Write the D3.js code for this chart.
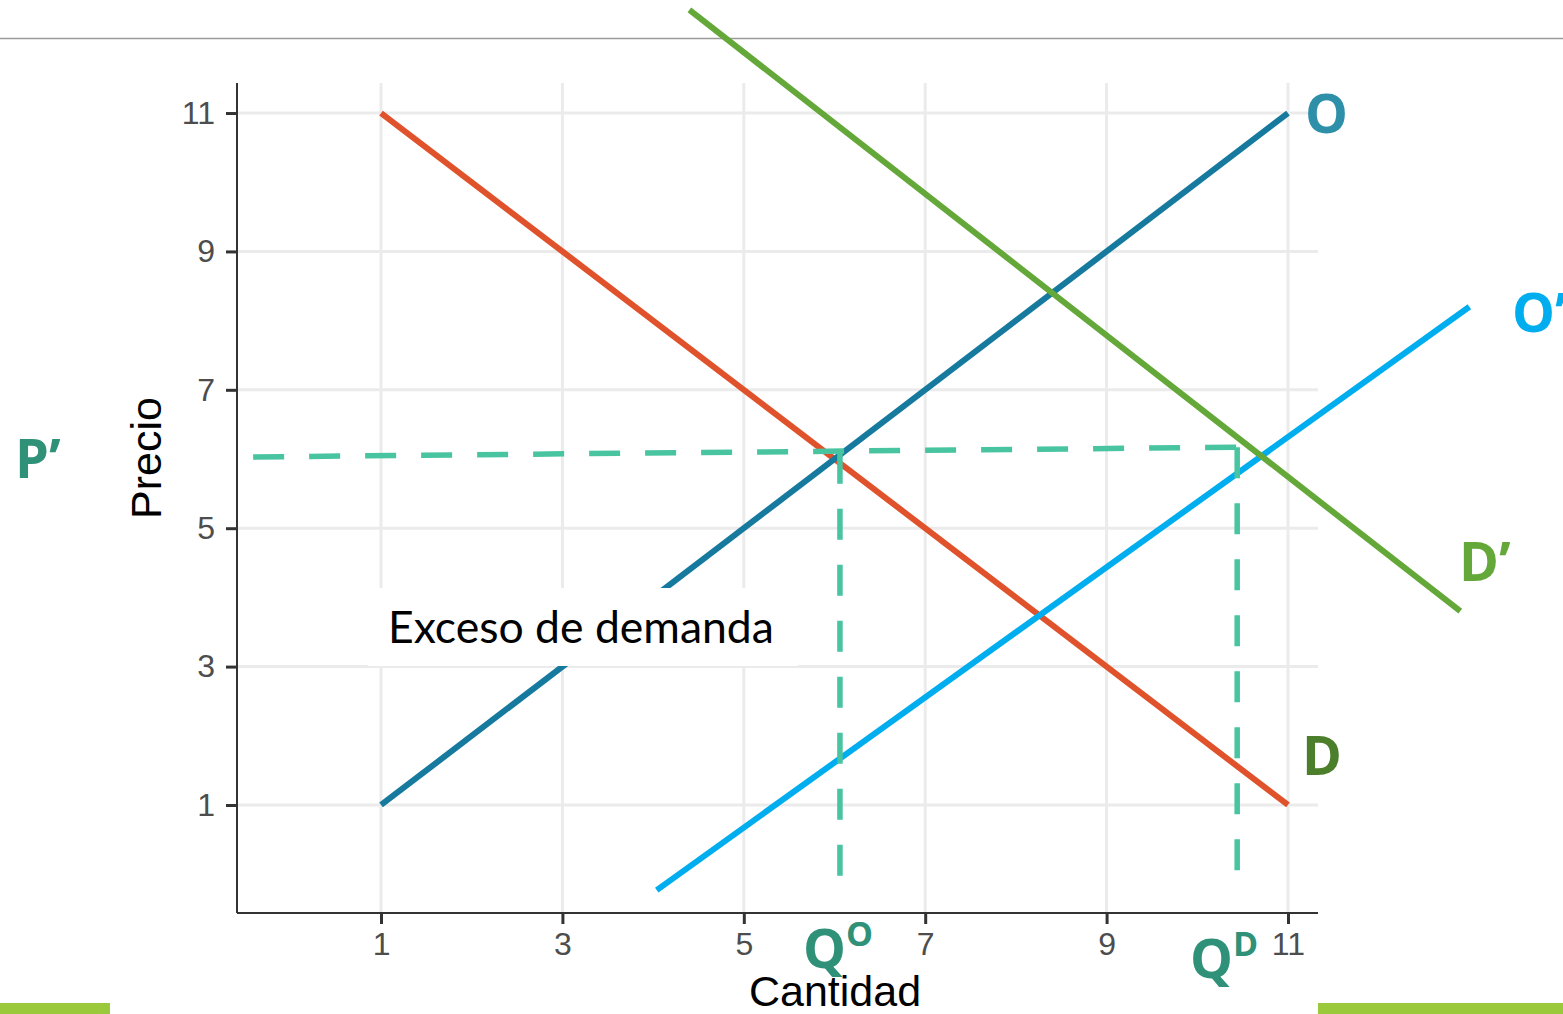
<!DOCTYPE html>
<html><head><meta charset="utf-8">
<script src="https://cdn.jsdelivr.net/npm/d3@7"></script>
<style>html,body{margin:0;padding:0;background:#fff;overflow:hidden}</style>
</head><body>
<svg id="c" width="1563" height="1014"></svg>
<script>
const xTicks = [1,3,5,7,9,11];
const yTicks = [1,3,5,7,9,11];
const supplyO  = [[1,1],[11,11]];
const demandD  = [[1,11],[11,1]];
const supplyO2 = [[4.04,-0.23],[13.0,8.2]];
const demandD2 = [[4.40,12.49],[12.90,3.80]];
const priceP   = [[-0.41,6.03],[10.44,6.17]];
const qO = [[6.06,6.09],[6.06,-0.08]];
const qD = [[10.44,6.17],[10.44,-0.08]];

const svg = d3.select("#c");
const x = d3.scaleLinear().domain([-0.588,11.331]).range([237,1318]);
const y = d3.scaleLinear().domain([-0.561,11.434]).range([913,83]);

// top rule and bottom bars
svg.append("line").attr("x1",0).attr("x2",1563).attr("y1",38.5).attr("y2",38.5).attr("stroke","#9a9a9a").attr("stroke-width",1.5);
svg.append("rect").attr("x",0).attr("y",1003).attr("width",110).attr("height",11).attr("fill","#9aca3c");
svg.append("rect").attr("x",1318).attr("y",1003).attr("width",245).attr("height",11).attr("fill","#9aca3c");

// grid
const g = svg.append("g");
g.selectAll(".gx").data(xTicks).join("line").attr("x1",d=>x(d)).attr("x2",d=>x(d)).attr("y1",83).attr("y2",913).attr("stroke","#ebebeb").attr("stroke-width",3);
g.selectAll(".gy").data(yTicks).join("line").attr("y1",d=>y(d)).attr("y2",d=>y(d)).attr("x1",237).attr("x2",1318).attr("stroke","#ebebeb").attr("stroke-width",3);

// axes
const xa = svg.append("g").attr("transform","translate(0,913)").call(d3.axisBottom(x).tickValues(xTicks).tickSize(11).tickPadding(8).tickFormat(d3.format("d")));
const ya = svg.append("g").attr("transform","translate(237,0)").call(d3.axisLeft(y).tickValues(yTicks).tickSize(11).tickPadding(11).tickFormat(d3.format("d")));
[xa,ya].forEach(a=>{
  a.select(".domain").attr("stroke","#333").attr("stroke-width",2);
  a.selectAll(".tick line").attr("stroke","#333").attr("stroke-width",3);
  a.selectAll(".tick text").attr("fill","#4d4d4d").attr("font-family","Liberation Sans, Arial, sans-serif").attr("font-size",32);
});
ya.select(".domain").attr("d","M0,83V913");
xa.select(".domain").attr("d","M237,0H1318");

svg.append("text").attr("x",835).attr("y",1006).attr("text-anchor","middle").attr("font-family","Liberation Sans, Arial, sans-serif").attr("font-size",43).attr("fill","#000").text("Cantidad");
svg.append("text").attr("transform","translate(161,458) rotate(-90)").attr("text-anchor","middle").attr("font-family","Liberation Sans, Arial, sans-serif").attr("font-size",43).attr("fill","#000").text("Precio");

const line = d3.line().x(d=>x(d[0])).y(d=>y(d[1]));
function draw(data,color,w,dash){
  const p = svg.append("path").datum(data).attr("d",line).attr("fill","none").attr("stroke",color).attr("stroke-width",w);
  if(dash) p.attr("stroke-dasharray",dash);
  return p;
}
draw(demandD,"#e0522b",6);
draw(supplyO,"#16799e",6);

// label box
svg.append("rect").attr("x",368).attr("y",588).attr("width",430).attr("height",78).attr("fill","#fff");
svg.append("text").attr("x",388).attr("y",643).attr("font-family","Lato, Open Sans, sans-serif").attr("font-size",44.5).attr("fill","#000").text("Exceso de demanda");

draw(supplyO2,"#00aeef",6);
draw(demandD2,"#64a83a",6);
draw(priceP,"#48c4a0",5.5,"31,25");
draw(qO,"#48c4a0",5.5,"31,25");
draw(qD,"#48c4a0",5.5,"31,25");

function lab(tx,ty,t,color,sup){
  const el = svg.append("text").attr("x",tx).attr("y",ty).attr("font-family","Open Sans, Lato, sans-serif").attr("font-weight","bold").attr("font-size",54).attr("fill",color).text(t);
  if(sup) el.append("tspan").attr("font-size",34).attr("dy",-22).text(sup);
}
lab(1305,133,"O","#2e8fa8");
lab(1512,332,"O\u2019","#00aeef");
lab(1459,581,"D\u2019","#64a83a");
lab(1302,775,"D","#4c7f2c");
lab(15,478,"P\u2019","#2e9178");
lab(803,968,"Q","#2e9178","O");
lab(1190,978,"Q","#2e9178","D");
</script>
</body></html>
